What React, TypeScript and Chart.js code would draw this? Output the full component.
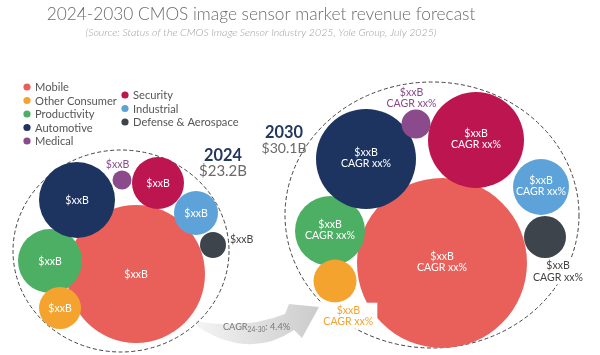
import React, { useEffect, useRef } from "react";
import { Chart, registerables } from "chart.js";
Chart.register(...registerables);

const FONT = "Lato, 'Open Sans', sans-serif";

const title = "2024-2030 CMOS image sensor market revenue forecast";
const subtitle = "(Source: Status of the CMOS Image Sensor Industry 2025, Yole Group, July 2025)";
const categories = ["Mobile", "Other Consumer", "Productivity", "Automotive", "Medical", "Security", "Industrial", "Defense & Aerospace"];
const colors = ["#E9605A", "#F5A32F", "#4DAF63", "#1D3461", "#8A4A8B", "#BC1550", "#5DA3D9", "#3D444B"];
const years = ["2024", "2030"];
const totals = ["$23.2B", "$30.1B"];
const valueText = "$xxB";
const cagrText = "CAGR xx%";
const cagrMain = "CAGR";
const cagrSub = "24-30";
const cagrValue = ": 4.4%";

// packed-bubble layout (chart units) and bubble radii
const x2024 = [136, 60, 50, 77, 122, 158, 196, 213];
const y2024 = [274, 308, 261, 200, 180, 183, 213, 245];
const r2024 = [69, 21, 32, 38, 9.5, 26, 22, 13];
const x2030 = [442, 335, 330, 366, 416, 476, 541, 545];
const y2030 = [263, 281, 231, 159, 124, 140, 187, 237];
const r2030 = [85, 21.5, 35, 50, 14.5, 48, 28, 21];
// drawing rank, bottom -> top
const zRank = [0, 2, 1, 3, 7, 4, 5, 6];
const labelMode2024 = ["in", "in", "in", "in", "above", "in", "in", "right"];
const labelMode2030 = ["in", "below", "in", "in", "above", "in", "in", "below"];
// dashed outline of each year cluster
const outlineX = [121, 432];
const outlineY = [251, 215];
const outlineRX = [108, 147];
const outlineRY = [101, 133];

const W = 600;
const H = 355;

function fitSize(ctx: CanvasRenderingContext2D, text: string, w: number, weight = "normal", style = "normal") {
  ctx.font = `${style} ${weight} 20px ${FONT}`;
  return (20 * w) / ctx.measureText(text).width;
}

const decor = {
  id: "decor",
  beforeDraw(chart: any) {
    const { ctx, width, height } = chart;
    ctx.save();
    ctx.fillStyle = "#ffffff";
    ctx.fillRect(0, 0, width, height);
    ctx.restore();
  },
  beforeDatasetsDraw(chart: any) {
    const { ctx } = chart;
    const xs = chart.scales.x;
    const ys = chart.scales.y;
    const px = (v: number) => xs.getPixelForValue(v);
    const py = (v: number) => ys.getPixelForValue(v);
    ctx.save();
    // arrow
    const g = ctx.createLinearGradient(px(195), 0, px(320), 0);
    g.addColorStop(0, "#f4f4f4");
    g.addColorStop(1, "#cbcbcb");
    ctx.fillStyle = g;
    ctx.beginPath();
    ctx.moveTo(px(195), py(321));
    ctx.quadraticCurveTo(px(245), py(330), px(285), py(314));
    ctx.lineTo(px(289), py(304));
    ctx.lineTo(px(319), py(307));
    ctx.lineTo(px(302), py(338));
    ctx.lineTo(px(294), py(330));
    ctx.quadraticCurveTo(px(250), py(360), px(198), py(327));
    ctx.closePath();
    ctx.fill();
    // dashed outlines
    ctx.strokeStyle = "#444";
    ctx.lineWidth = 1;
    ctx.setLineDash([4, 2.5]);
    for (let i = 0; i < 2; i++) {
      const cx = px(outlineX[i]);
      const cy = py(outlineY[i]);
      const rx = px(outlineX[i] + outlineRX[i]) - cx;
      const ry = py(outlineY[i] + outlineRY[i]) - cy;
      ctx.beginPath();
      ctx.ellipse(cx, cy, Math.abs(rx), Math.abs(ry), 0, 0, Math.PI * 2);
      ctx.stroke();
    }
    ctx.restore();
    // let bubbles that lie in the layout padding be drawn as well
    chart._savedArea = chart.chartArea;
    chart.chartArea = { left: 0, top: 0, right: chart.width, bottom: chart.height, width: chart.width, height: chart.height };
  },
  afterDatasetsDraw(chart: any) {
    if (chart._savedArea) {
      chart.chartArea = chart._savedArea;
      chart._savedArea = null;
    }
    const { ctx } = chart;
    ctx.save();
    ctx.textBaseline = "middle";
    ctx.textAlign = "center";
    const lblSize = fitSize(ctx, cagrText, 50);
    const lblFont = `normal normal ${lblSize}px ${FONT}`;
    const lh = lblSize + 1;
    const metas = chart.data.datasets.map((_: any, i: number) => chart.getDatasetMeta(i));
    for (let yi = 0; yi < 2; yi++) {
      const modes = yi === 0 ? labelMode2024 : labelMode2030;
      const lines = yi === 0 ? [valueText] : [valueText, cagrText];
      for (let c = 0; c < categories.length; c++) {
        const el = metas[c].data[yi];
        const cx = el.x, cy = el.y, r = el.options.radius;
        const mode = modes[c];
        ctx.font = lblFont;
        let x = cx, y0 = cy;
        let color = "#ffffff";
        ctx.textAlign = "center";
        if (mode === "in") {
          y0 = lines.length === 1 ? cy + 1 : cy - 6.5;
        } else if (mode === "above") {
          color = colors[c];
          x = cx - 4.5;
          y0 = cy - r - 5.5 - (lines.length - 1) * lh;
        } else if (mode === "right") {
          color = "#444";
          ctx.textAlign = "left";
          x = cx + r + 4;
          y0 = cy - 5;
        } else if (mode === "below") {
          color = c === 1 ? colors[c] : "#444";
          x = cx + 0.62 * r;
          y0 = cy + r + 8;
          // white backing box
          let w = 0;
          lines.forEach((t) => (w = Math.max(w, ctx.measureText(t).width)));
          ctx.fillStyle = "#ffffff";
          ctx.fillRect(x - w / 2 - 4, y0 - lh / 2 - 2, w + 8, lines.length * lh + 3);
        }
        ctx.fillStyle = color;
        lines.forEach((t, k) => ctx.fillText(t, x, y0 + k * lh));
      }
    }

    // year labels
    const yearX = [223, 284];
    const yearY = [156, 133];
    ctx.textAlign = "center";
    for (let i = 0; i < 2; i++) {
      const s1 = fitSize(ctx, years[i], 38, "bold");
      ctx.font = `normal bold ${s1}px ${FONT}`;
      ctx.fillStyle = "#23375F";
      ctx.fillText(years[i], yearX[i], yearY[i]);
      const s2 = fitSize(ctx, totals[i], i === 0 ? 48 : 45);
      ctx.font = `normal normal ${s2}px ${FONT}`;
      ctx.fillStyle = "#6a6a6a";
      ctx.fillText(totals[i], yearX[i], yearY[i] + 15.5);
    }

    // CAGR arrow text
    {
      const base = fitSize(ctx, cagrMain + cagrSub + cagrValue, 74);
      const subS = base * 0.72;
      let x = 223;
      const y = 327;
      ctx.textAlign = "left";
      ctx.fillStyle = "#777";
      ctx.font = `normal normal ${base}px ${FONT}`;
      ctx.fillText(cagrMain, x, y);
      x += ctx.measureText(cagrMain).width;
      ctx.font = `normal normal ${subS}px ${FONT}`;
      ctx.fillText(cagrSub, x, y + 3);
      x += ctx.measureText(cagrSub).width;
      ctx.font = `normal normal ${base}px ${FONT}`;
      ctx.fillText(cagrValue, x, y);
    }

    // legend
    {
      const ls = fitSize(ctx, "Other Consumer", 82);
      ctx.font = `normal normal ${ls}px ${FONT}`;
      ctx.textAlign = "left";
      for (let i = 0; i < categories.length; i++) {
        const col = i < 5 ? 0 : 1;
        const row = i < 5 ? i : i - 5;
        const dx = col === 0 ? 27 : 125;
        const dy = (col === 0 ? 87 : 95) + row * 13.5;
        ctx.fillStyle = colors[i];
        ctx.beginPath();
        ctx.arc(dx, dy, 3.6, 0, Math.PI * 2);
        ctx.fill();
        ctx.fillStyle = "#555";
        ctx.fillText(categories[i], dx + 8, dy + 0.5);
      }
    }

    // title
    ctx.textAlign = "center";
    const ts = fitSize(ctx, title, 429, "300");
    ctx.font = `normal 300 ${ts}px ${FONT}`;
    ctx.fillStyle = "#6b6b6b";
    ctx.fillText(title, 261, 14.5);
    const ss = fitSize(ctx, subtitle, 351, "300", "italic");
    ctx.font = `italic 300 ${ss}px ${FONT}`;
    ctx.fillStyle = "#a0a0a0";
    ctx.fillText(subtitle, 261, 33);
    ctx.restore();
  },
};

export default function App() {
  const ref = useRef<HTMLCanvasElement | null>(null);
  useEffect(() => {
    if (!ref.current) return;
    const datasets = categories.map((name, i) => ({
      label: name,
      data: [
        { x: x2024[i], y: y2024[i], r: r2024[i] },
        { x: x2030[i], y: y2030[i], r: r2030[i] },
      ],
      backgroundColor: colors[i],
      borderWidth: 0,
      hoverRadius: 0,
      clip: false as const,
      order: -zRank[i],
    }));
    // bubble charts pad the plot area by the largest radius; offset the
    // axis range by the same amount so one axis unit equals one pixel
    const pad = Math.max(...r2024, ...r2030);
    const chart = new Chart(ref.current, {
      type: "bubble",
      data: { datasets },
      options: {
        animation: false,
        responsive: false,
        events: [],
        layout: { padding: 0 },
        plugins: { legend: { display: false }, tooltip: { enabled: false }, title: { display: false } },
        scales: {
          x: { type: "linear", min: pad, max: W - pad, display: false },
          y: { type: "linear", min: pad, max: H - pad, reverse: true, display: false },
        },
      },
      plugins: [decor],
    });
    return () => chart.destroy();
  }, []);
  return (
    <div style={{ position: "fixed", left: 0, top: 0, width: W, height: H, background: "#fff" }}>
      <canvas ref={ref} width={W} height={H} style={{ display: "block", width: W, height: H }} />
    </div>
  );
}
